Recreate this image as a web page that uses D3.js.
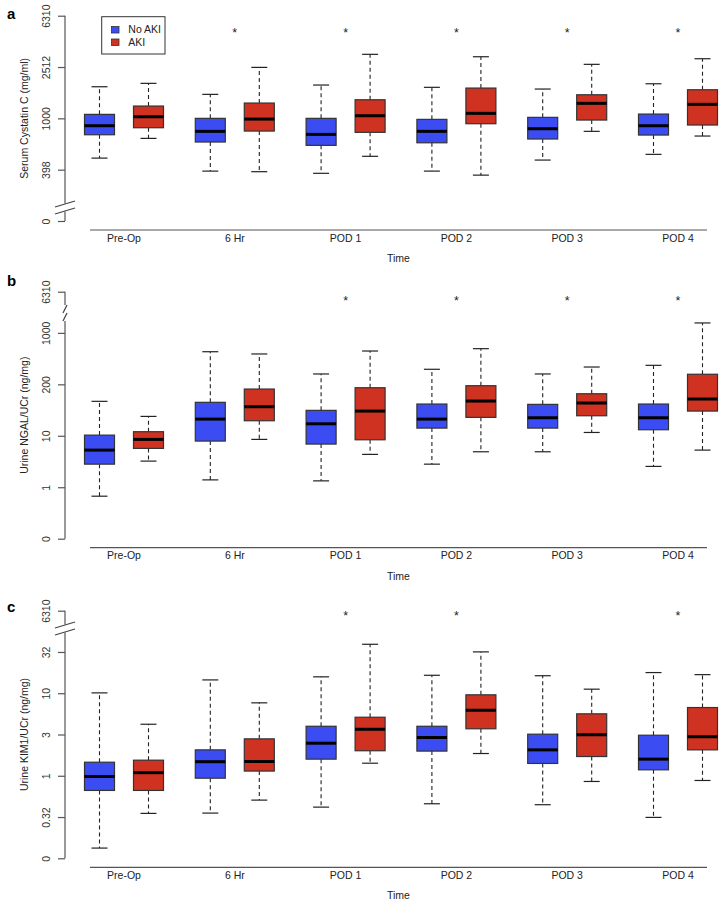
<!DOCTYPE html>
<html><head><meta charset="utf-8">
<script src="https://cdn.jsdelivr.net/npm/d3@7"></script>
<style>
body{margin:0;background:#fff}
svg{display:block;font-family:"Liberation Sans",Arial,Helvetica,sans-serif}
</style>
</head><body>
<svg id="chart" width="719" height="902"></svg>
<script>
// ---------- DATA ----------
const categories = ["Pre-Op", "6 Hr", "POD 1", "POD 2", "POD 3", "POD 4"];
const groups = ["No AKI", "AKI"];

// five-number summaries: [lower whisker, Q1, median, Q3, upper whisker]
const cysNoAKI = [[490,745,876,1074,1763],[388,654,792,1000,1538],[373,616,750,1000,1818],[388,645,792,982,1745],[473,690,830,1018,1692],[524,741,876,1080,1860]];
const cysAKI   = [[698,845,1029,1247,1874],[384,796,987,1316,2496],[506,778,1048,1396,3155],[361,908,1094,1722,3021],[792,970,1309,1527,2636],[728,887,1286,1671,2915]];

const ngalNoAKI = [[0.67,2.81,5.27,10.3,46.7],[1.39,7.89,21.1,44.7,430],[1.33,6.9,17.1,31.2,159],[2.81,14.1,21.1,41.4,196],[4.89,14.1,22.4,40.8,159],[2.54,13.1,22.4,41.4,234]];
const ngalAKI   = [[3.22,5.69,8.51,12.0,23.8],[8.51,19.6,36.7,81,389],[4.35,8.36,30.2,85.9,444],[4.89,22.8,47.3,94,493],[11.6,24.5,43.3,65.6,217],[5.27,30.2,51.8,157,1559]];

const kimNoAKI = [[0.133,0.664,0.98,1.46,10.1],[0.353,0.935,1.48,2.06,14.5],[0.417,1.59,2.48,3.98,15.8],[0.458,1.99,2.91,3.98,16.5],[0.446,1.41,2.06,3.19,16.3],[0.313,1.18,1.59,3.1,17.8]];
const kimAKI   = [[0.35,0.664,1.09,1.545,4.21],[0.507,1.14,1.49,2.8,7.65],[1.42,2.01,3.66,5.12,39.2],[1.86,3.71,6.22,9.57,31.7],[0.853,1.71,3.14,5.63,11.2],[0.877,2.06,2.97,6.71,16.8]];

// axis ticks (scale positions) and their printed labels
const cysTicks = [158.49, 398.1, 1000, 2511.9, 6309.6];
const cysTickLabels = ["0", "398", "1000", "2512", "6310"];
const ngalTicks = [0.1, 1, 10, 100, 1000, 6309.6];
const ngalTickLabels = ["0", "1", "10", "200", "1000", "6310"];
const kimTicks = [0.1, 0.3162, 1, 3.162, 10, 31.62, 100];
const kimTickLabels = ["0", "0.32", "1", "3", "10", "32", "6310"];

// significance markers per time point
const cysStars  = [false, true, true, true, true, true];
const ngalStars = [false, false, true, true, true, true];
const kimStars  = [false, false, true, true, false, true];

// ---------- STYLE / LAYOUT ----------
const colors = ["#3b4df2", "#cf3220"];
const axisX = 65;
const boxW = 30;
const capW = 16;
const panels = [
  {letter:"a", title:"Serum Cystatin C (mg/ml)", series:[cysNoAKI, cysAKI], ticks:cysTicks, labels:cysTickLabels, stars:cysStars,
   top:15.7, bottom:221, letterY:18.5, starY:30, brk:{y:207.5, wide:true}, legend:true},
  {letter:"b", title:"Urine NGAL/UCr (ng/mg)", series:[ngalNoAKI, ngalAKI], ticks:ngalTicks, labels:ngalTickLabels, stars:ngalStars,
   top:291.7, bottom:538.7, letterY:285.5, starY:297.7, brk:{y:313, wide:false}, legend:false},
  {letter:"c", title:"Urine KIM1/UCr (ng/mg)", series:[kimNoAKI, kimAKI], ticks:kimTicks, labels:kimTickLabels, stars:kimStars,
   top:610.7, bottom:858.3, letterY:611.7, starY:612.3, brk:{y:628.5, wide:true}, legend:false}
];

const svg = d3.select("#chart");
const x = d3.scalePoint().domain(categories).range([124, 678]);
const xg = d3.scalePoint().domain(groups).range([-24.5, 24.5]);

panels.forEach(p => {
  const g = svg.append("g");
  const y = d3.scaleLog().domain([p.ticks[0], p.ticks[p.ticks.length - 1]]).range([p.bottom, p.top]);

  // y axis ticks + labels
  const ax = g.append("g").attr("transform", `translate(${axisX},0)`)
    .call(d3.axisLeft(y).tickValues(p.ticks).tickFormat((d, i) => p.labels[i]).tickSize(7).tickSizeOuter(0));
  ax.select(".domain").remove();
  ax.selectAll(".tick line").attr("stroke", "#555").attr("stroke-width", 1.2);
  ax.selectAll(".tick text")
    .attr("transform", "rotate(-90)")
    .attr("x", 0).attr("y", -15.5).attr("dy", 0)
    .attr("text-anchor", "middle")
    .attr("fill", "#333")
    .style("font-size", "10.5px")
    .style("font-family", "'Liberation Sans',Arial,sans-serif");

  // y axis line with break
  const b = p.brk;
  const gapHalf = b.wide ? 4 : 8;
  g.append("line").attr("x1", axisX).attr("x2", axisX).attr("y1", p.top).attr("y2", b.y - gapHalf)
    .attr("stroke", "#555").attr("stroke-width", 1.2);
  g.append("line").attr("x1", axisX).attr("x2", axisX).attr("y1", b.y + gapHalf).attr("y2", p.bottom)
    .attr("stroke", "#555").attr("stroke-width", 1.2);
  if (b.wide) {
    [-3.5, 3.5].forEach(o => {
      g.append("line").attr("x1", axisX - 10).attr("y1", b.y + o + 3)
        .attr("x2", axisX + 10).attr("y2", b.y + o - 3)
        .attr("stroke", "#444").attr("stroke-width", 1.2);
    });
  } else {
    [-4, 4].forEach(o => {
      g.append("line").attr("x1", axisX - 2).attr("y1", b.y + o + 4)
        .attr("x2", axisX + 2).attr("y2", b.y + o - 4)
        .attr("stroke", "#444").attr("stroke-width", 1.2);
    });
  }

  // y title
  g.append("text")
    .attr("transform", `translate(28,${(p.top + p.bottom) / 2}) rotate(-90)`)
    .attr("text-anchor", "middle").attr("fill", "#222")
    .style("font-size", "10.5px").text(p.title);

  // panel letter
  g.append("text").attr("x", 7).attr("y", p.letterY)
    .style("font-size", "15px").style("font-weight", "bold").attr("fill", "#000").text(p.letter);

  // x axis line
  const xl = x(categories[0]) - 34, xr = x(categories[categories.length - 1]) + 29;
  const xAxisY = p.bottom + 9;
  g.append("line").attr("x1", xl).attr("x2", xr).attr("y1", xAxisY).attr("y2", xAxisY)
    .attr("stroke", "#555").attr("stroke-width", 1.2);
  g.selectAll(".cat").data(categories).enter().append("text")
    .attr("x", d => x(d)).attr("y", p.bottom + 20.5)
    .attr("text-anchor", "middle").attr("fill", "#222").style("font-size", "10.5px").text(d => d);
  g.append("text").attr("x", (xl + xr) / 2).attr("y", p.bottom + 41)
    .attr("text-anchor", "middle").attr("fill", "#222").style("font-size", "10.5px").text("Time");

  // boxes
  p.series.forEach((ser, gi) => {
    const off = xg(groups[gi]);
    ser.forEach((s, ci) => {
      const cx = x(categories[ci]) + off;
      const [lo, q1, med, q3, hi] = s;
      const bg = g.append("g");
      // whiskers
      bg.append("line").attr("x1", cx).attr("x2", cx).attr("y1", y(q3)).attr("y2", y(hi))
        .attr("stroke", "#222").attr("stroke-width", 1.1).attr("stroke-dasharray", "4,3");
      bg.append("line").attr("x1", cx).attr("x2", cx).attr("y1", y(q1)).attr("y2", y(lo))
        .attr("stroke", "#222").attr("stroke-width", 1.1).attr("stroke-dasharray", "4,3");
      [lo, hi].forEach(v => {
        bg.append("line").attr("x1", cx - capW / 2).attr("x2", cx + capW / 2)
          .attr("y1", y(v)).attr("y2", y(v)).attr("stroke", "#222").attr("stroke-width", 1.2);
      });
      bg.append("rect").attr("x", cx - boxW / 2).attr("width", boxW)
        .attr("y", y(q3)).attr("height", y(q1) - y(q3))
        .attr("fill", colors[gi]).attr("stroke", "#333").attr("stroke-width", 1.2);
      bg.append("line").attr("x1", cx - boxW / 2).attr("x2", cx + boxW / 2)
        .attr("y1", y(med)).attr("y2", y(med)).attr("stroke", "#000").attr("stroke-width", 3);
    });
  });

  // stars
  g.selectAll(".star").data(categories.filter((c, i) => p.stars[i])).enter().append("text")
    .attr("x", d => x(d)).attr("y", p.starY + 7.2)
    .attr("text-anchor", "middle").attr("fill", "#222").style("font-size", "12.5px").text("*");

  // legend
  if (p.legend) {
    const lg = g.append("g");
    lg.append("rect").attr("x", 101.7).attr("y", 16.7).attr("width", 63.3).attr("height", 37.3)
      .attr("fill", "#fff").attr("stroke", "#333").attr("stroke-width", 1);
    groups.forEach((gr, i) => {
      lg.append("rect").attr("x", 111.5).attr("y", 26.5 + i * 12.5).attr("width", 7.5).attr("height", 6.5)
        .attr("fill", colors[i]).attr("stroke", "#333").attr("stroke-width", 0.8);
      lg.append("text").attr("x", 128.3).attr("y", 33.4 + i * 12.3)
        .attr("fill", "#222").style("font-size", "10.5px").text(gr);
    });
  }
});
</script>
</body></html>
